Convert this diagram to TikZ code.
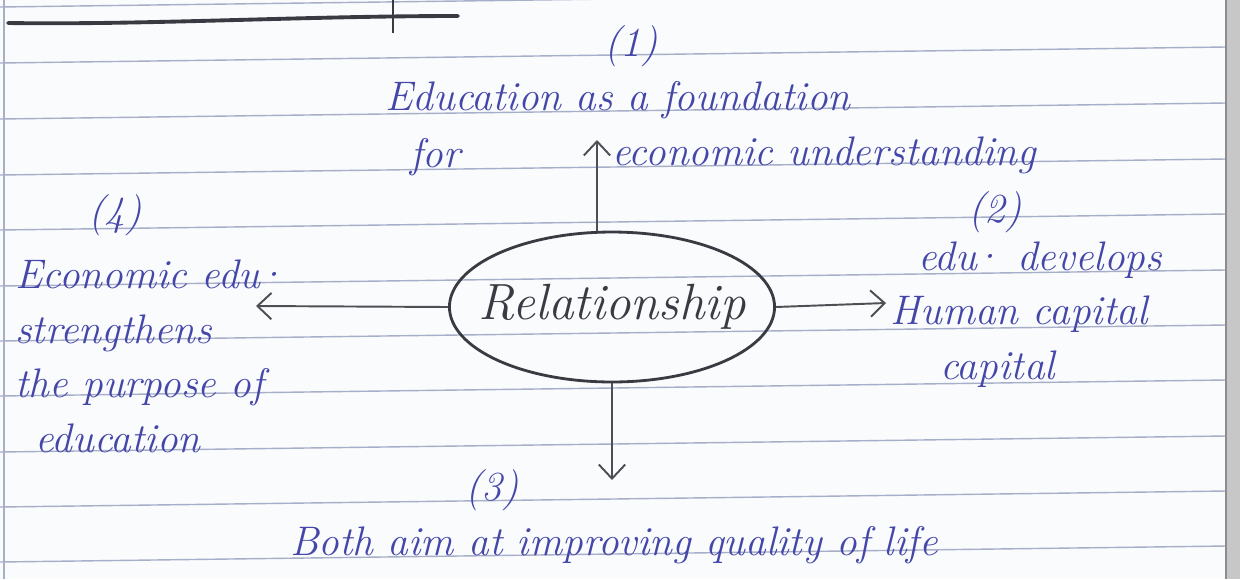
\documentclass[tikz,border=0pt]{standalone}
\usepackage{tikz}
\usetikzlibrary{arrows.meta,positioning,shapes.geometric}
\definecolor{ink}{HTML}{4447A8}
\definecolor{pencil}{HTML}{3A3A42}
\definecolor{ruling}{HTML}{A7AEC8}
\definecolor{paper}{HTML}{FAFBFD}
\newcommand{\edudot}{\kern-3pt\textperiodcentered}

\begin{document}
\begin{tikzpicture}[x=0.02cm, y=-0.02cm,
  hand/.style={text=ink, font=\fontsize{23.5}{31}\selectfont\itshape,
               inner sep=0pt, anchor=base west, align=left},
  link/.style={draw=pencil!90, line width=1.1pt,
               -{Straight Barb[length=8pt,width=15pt]}},
  rule/.style={draw=ruling, line width=0.8pt}]
  \useasboundingbox (0,0) rectangle (1240,579);
  \fill[paper] (0,0) rectangle (1240,579);
  \fill[black!22] (1226,0) rectangle (1240,579);
  \begin{scope}
    \clip (0,0) rectangle (1226,579);
    \foreach \y in {7,63,119,175,230,286,341,396,452,507,562}
      \draw[rule] (0,\y) -- (1226,\y-16);
  \end{scope}
  \draw[rule] (4,0) -- (4,579);
  \draw[rule, draw=black!45] (1226,0) -- (1226,579);

  \draw[pencil, line width=2.2pt, line cap=round]
    (8,23) .. controls (150,25) and (300,16) .. (458,16);
  \draw[pencil, line width=1pt] (393,0) -- (393,33);

  \node[draw=pencil, line width=1.6pt, ellipse, minimum width=6.45cm,
        minimum height=3cm, inner xsep=-0.37cm, inner ysep=0pt, text=pencil,
        font=\fontsize{29}{34}\selectfont\itshape] (rel) at (612,307) {Relationship};

  \node[hand] (one) at (604,56) {(1)};
  \node[hand] (found) at (385,110) {Education as a foundation};
  \node[hand] (for) at (410,167) {for};
  \node[hand] (econ) at (612,165) {economic understanding};

  \node[hand] (two) at (968,222) {(2)};
  \node[hand] (human) at (890,379) {\hspace*{0.56cm}edu\edudot{} develops\\
    Human capital\\ \hspace*{1cm}capital};

  \node[hand] (three) at (465,500) {(3)};
  \node[hand] (life) at (290,555) {Both aim at improving quality of life};

  \node[hand] (four) at (88,225) {(4)};
  \node[hand] (purpose) at (15,452) {Economic edu\edudot\\
    strengthens\\ the purpose of\\ \hspace*{0.4cm}education};

  \coordinate (tipN) at (597,140);
  \coordinate (tipE) at (886,303);
  \coordinate (tipS) at (612,480);
  \coordinate (tipW) at (256,306);
  \draw[link] (rel.north -| tipN) -- (tipN);
  \draw[link] (rel.east) -- (tipE);
  \draw[link] (rel.south) -- (tipS);
  \draw[link] (rel.west) -- (tipW);
\end{tikzpicture}
\end{document}
